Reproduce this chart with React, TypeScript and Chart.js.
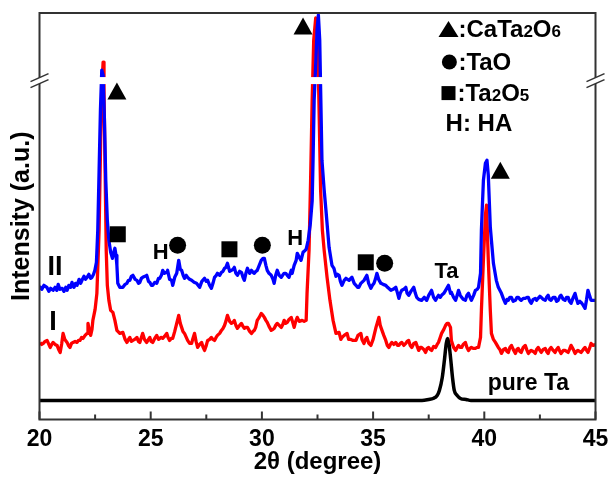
import React, { useEffect, useRef } from 'react';
import { Chart, registerables } from 'chart.js';

Chart.register(...registerables);

// 2θ (degree), intensity (a.u.) — sample II (blue)
const seriesII: [number, number][] = [
  [20.0, 66.5], [20.1, 65], [20.2, 67], [20.33, 66], [20.42, 64], [20.5, 65.5], [20.61, 64.5], [20.7, 66],
  [20.78, 64.5], [20.84, 67.5], [20.92, 65], [21.02, 65.5], [21.1, 64], [21.18, 66], [21.24, 64.5], [21.32, 67],
  [21.4, 66], [21.46, 68.5], [21.55, 66], [21.62, 68], [21.69, 67], [21.78, 70], [21.85, 68], [21.91, 69.5],
  [22.0, 71.5], [22.07, 70], [22.14, 71], [22.22, 72.5], [22.3, 70.5], [22.36, 71], [22.43, 72.5], [22.49, 74.5],
  [22.56, 78.5], [22.62, 94.5], [22.68, 124.5], [22.74, 154.5], [22.8, 174.5], [22.86, 172], [22.92, 149.5],
  [22.98, 119.5], [23.05, 99.5], [23.12, 89.5], [23.2, 83.5], [23.28, 80.5], [23.34, 83.5], [23.39, 85.5],
  [23.44, 82], [23.48, 77], [23.52, 68], [23.61, 66], [23.7, 66], [23.75, 66], [23.85, 67.5], [23.93, 68],
  [24.0, 69.5], [24.06, 69.5], [24.13, 71.5], [24.2, 72], [24.3, 70], [24.38, 69.5], [24.45, 68], [24.51, 68.5],
  [24.58, 70.5], [24.64, 71], [24.74, 71.5], [24.82, 72], [24.9, 69], [24.96, 68.5], [25.03, 67], [25.09, 67],
  [25.18, 68.5], [25.27, 68], [25.35, 70.5], [25.41, 70.5], [25.48, 72], [25.54, 74.5], [25.62, 73], [25.72, 73.5],
  [25.76, 74.5], [25.85, 70], [25.94, 69.5], [25.99, 67], [26.08, 71], [26.17, 73], [26.26, 79.5], [26.33, 75],
  [26.39, 74.5], [26.46, 72], [26.52, 70.5], [26.6, 72], [26.66, 71], [26.75, 70], [26.84, 69.5], [26.95, 68.5],
  [27.06, 68], [27.13, 67], [27.2, 66], [27.3, 69], [27.42, 70.5], [27.5, 69], [27.56, 69.5], [27.65, 67],
  [27.73, 65.5], [27.8, 68], [27.87, 71], [27.95, 72], [28.0, 73], [28.1, 72], [28.18, 73.5], [28.25, 74],
  [28.32, 75.5], [28.38, 76], [28.45, 78], [28.55, 74], [28.63, 74.5], [28.7, 75], [28.76, 76], [28.83, 73],
  [28.9, 72], [29.0, 74], [29.08, 73.5], [29.15, 71], [29.21, 69.5], [29.28, 73], [29.35, 75.5], [29.45, 73],
  [29.53, 74.5], [29.6, 73.5], [29.66, 73], [29.73, 74], [29.79, 74.5], [29.88, 77], [29.97, 79.5], [30.05, 80.5],
  [30.11, 80.5], [30.18, 77], [30.24, 74.5], [30.32, 73], [30.42, 72], [30.5, 70], [30.55, 68], [30.62, 72],
  [30.69, 74.5], [30.78, 72], [30.87, 71], [30.93, 72], [31.0, 73], [31.07, 73], [31.14, 72], [31.22, 71],
  [31.32, 74.5], [31.36, 73], [31.45, 77], [31.54, 79.5], [31.59, 83], [31.68, 81], [31.76, 79.5], [31.85, 83.5],
  [31.9, 84], [31.99, 85], [32.08, 89.5], [32.17, 97], [32.26, 109], [32.3, 129.5], [32.35, 159.5], [32.4, 172],
  [32.48, 194.5], [32.54, 202], [32.6, 189.5], [32.65, 159.5], [32.7, 129.5], [32.8, 114.5], [32.88, 104.5],
  [33.02, 86], [33.15, 77], [33.24, 75.5], [33.33, 71.5], [33.4, 72.5], [33.47, 72], [33.53, 69], [33.6, 67],
  [33.7, 69.5], [33.78, 70.5], [33.85, 70], [33.92, 69.5], [34.0, 70.5], [34.05, 71], [34.15, 68], [34.23, 67],
  [34.3, 66], [34.36, 66], [34.45, 68], [34.59, 69.5], [34.72, 72], [34.8, 68], [34.9, 65.5], [34.97, 67],
  [35.04, 68], [35.1, 70], [35.17, 73], [35.25, 70], [35.35, 68], [35.45, 67.5], [35.57, 67], [35.65, 66],
  [35.8, 64.5], [35.9, 65], [36.02, 66], [36.1, 63], [36.16, 60.5], [36.22, 63], [36.29, 64.5], [36.38, 65],
  [36.47, 66], [36.53, 63], [36.6, 62], [36.7, 64], [36.83, 66], [36.9, 63], [36.96, 61], [37.05, 60],
  [37.18, 59.5], [37.3, 61], [37.41, 59.5], [37.5, 62], [37.63, 64.5], [37.72, 61], [37.81, 59.5], [37.88, 61],
  [37.94, 62], [38.02, 61], [38.08, 62], [38.18, 63], [38.26, 64.5], [38.39, 67], [38.48, 63], [38.52, 63.5],
  [38.62, 61], [38.71, 59.5], [38.78, 62], [38.84, 64.5], [38.92, 62], [38.98, 61], [39.05, 60], [39.15, 59.5],
  [39.22, 62], [39.29, 63], [39.36, 61], [39.42, 59.5], [39.52, 62], [39.6, 64.5], [39.68, 65], [39.74, 66],
  [39.83, 73], [39.87, 94.5], [39.96, 119.5], [40.05, 128], [40.12, 129.5], [40.18, 122], [40.27, 96],
  [40.41, 78], [40.54, 69.5], [40.63, 66], [40.77, 63], [40.87, 60], [40.95, 58], [41.02, 60], [41.08, 59.5],
  [41.15, 61], [41.22, 61], [41.3, 59], [41.4, 59.5], [41.47, 61], [41.53, 61], [41.6, 60], [41.66, 59.5],
  [41.75, 60.5], [41.84, 60.5], [41.92, 61], [41.98, 61], [42.05, 59], [42.11, 58], [42.2, 60], [42.29, 60.5],
  [42.35, 59.5], [42.42, 60.5], [42.5, 61.5], [42.56, 61], [42.65, 60], [42.74, 59.5], [42.8, 61], [42.87, 62],
  [42.93, 60], [43.0, 59.5], [43.1, 61], [43.18, 61], [43.25, 59], [43.32, 59.5], [43.4, 61.5], [43.45, 62],
  [43.55, 60], [43.63, 59.5], [43.7, 61], [43.77, 61], [43.83, 59], [43.9, 58], [44.0, 61], [44.08, 63],
  [44.15, 60], [44.21, 58], [44.3, 59], [44.35, 58.5], [44.45, 57], [44.53, 55.5], [44.6, 60], [44.66, 64.5],
  [44.73, 62], [44.8, 59.5], [45.0, 59.5],
];

// sample I (red)
const seriesI: [number, number][] = [
  [20.03, 38.5], [20.1, 37.5], [20.17, 38], [20.25, 39], [20.34, 39.5], [20.42, 37.5], [20.48, 36], [20.55, 37.5],
  [20.61, 38.5], [20.7, 37.5], [20.79, 37], [20.86, 35], [20.93, 33.5], [21.0, 38], [21.06, 43], [21.14, 40],
  [21.24, 38.5], [21.3, 37], [21.37, 36], [21.44, 38], [21.51, 38.5], [21.6, 39], [21.69, 38.5], [21.75, 39.5],
  [21.82, 39.5], [21.89, 41], [21.96, 40.5], [22.05, 42], [22.14, 43], [22.18, 48], [22.25, 44], [22.3, 42],
  [22.36, 45], [22.4, 49.5], [22.5, 55], [22.58, 63], [22.68, 94.5], [22.75, 139.5], [22.82, 169.5],
  [22.86, 178.5], [22.9, 164.5], [22.95, 124.5], [23.0, 84.5], [23.05, 67], [23.12, 59.5], [23.2, 54.5],
  [23.3, 53.5], [23.39, 49.5], [23.48, 44.5], [23.61, 43], [23.75, 43.5], [23.85, 40], [23.93, 38.5], [24.0, 40],
  [24.06, 41], [24.13, 39], [24.2, 39.5], [24.28, 40], [24.38, 41], [24.45, 39], [24.51, 38.5], [24.58, 41],
  [24.64, 43], [24.72, 40], [24.82, 38.5], [24.9, 40], [24.96, 41], [25.02, 39], [25.09, 38.5], [25.18, 40.5],
  [25.27, 42], [25.35, 40], [25.41, 40.5], [25.47, 41], [25.54, 40.5], [25.62, 41.5], [25.72, 43], [25.78, 41],
  [25.85, 39.5], [25.92, 40.5], [25.99, 40.5], [26.08, 44], [26.17, 48], [26.26, 52], [26.33, 48], [26.39, 46],
  [26.45, 44], [26.52, 43], [26.6, 41], [26.66, 39.5], [26.75, 38], [26.84, 38], [26.9, 40.5], [26.97, 43],
  [27.04, 39], [27.11, 36], [27.2, 37.5], [27.29, 38.5], [27.36, 36], [27.42, 34.5], [27.5, 37], [27.56, 39.5],
  [27.65, 40], [27.73, 41], [27.8, 40], [27.87, 39.5], [27.94, 41], [28.0, 42], [28.1, 43], [28.18, 44.5],
  [28.25, 45.5], [28.32, 47], [28.38, 49], [28.45, 52], [28.55, 49], [28.63, 48], [28.7, 48.5], [28.76, 49.5],
  [28.83, 47], [28.9, 45.5], [29.0, 47], [29.08, 48], [29.15, 46.5], [29.21, 45.5], [29.28, 46], [29.35, 46],
  [29.45, 44], [29.53, 43], [29.6, 44], [29.66, 44.5], [29.72, 46], [29.79, 49.5], [29.88, 51], [29.97, 53],
  [30.05, 52], [30.11, 51], [30.18, 49.5], [30.24, 48.5], [30.32, 46.5], [30.42, 44.5], [30.5, 45], [30.55, 45.5],
  [30.62, 47], [30.69, 48], [30.78, 47], [30.87, 46], [30.94, 47.5], [31.0, 49.5], [31.07, 48], [31.14, 48.5],
  [31.22, 50], [31.32, 51], [31.4, 48], [31.45, 46], [31.52, 49], [31.59, 51], [31.68, 49], [31.81, 49.5],
  [31.9, 49], [31.99, 49.5], [32.03, 63], [32.12, 84.5], [32.19, 119.5], [32.26, 159.5], [32.33, 189.5],
  [32.42, 200.5], [32.5, 194.5], [32.58, 149.5], [32.64, 114.5], [32.72, 94.5], [32.8, 84.5], [32.93, 71],
  [33.06, 59.5], [33.2, 49.5], [33.33, 43], [33.47, 43.5], [33.55, 40], [33.6, 41], [33.7, 42], [33.83, 43],
  [33.9, 40], [34.0, 40], [34.1, 39.5], [34.23, 39.5], [34.32, 42], [34.45, 43], [34.5, 40], [34.59, 38],
  [34.65, 40], [34.72, 41], [34.81, 38], [34.9, 37], [35.0, 40], [35.13, 46], [35.26, 51], [35.32, 47],
  [35.4, 44.5], [35.48, 42], [35.57, 39.5], [35.64, 37], [35.71, 36], [35.78, 37.5], [35.84, 38.5], [35.93, 37.5],
  [36.02, 38.5], [36.1, 37], [36.16, 37], [36.22, 38], [36.29, 38.5], [36.38, 37], [36.47, 38], [36.53, 39],
  [36.6, 39.5], [36.67, 37], [36.74, 36], [36.83, 38], [36.92, 38.5], [37.0, 36], [37.05, 34.5], [37.12, 36],
  [37.18, 36], [37.28, 35], [37.36, 33.5], [37.43, 35.5], [37.5, 36], [37.57, 35], [37.63, 34.5], [37.72, 36.5],
  [37.81, 36], [37.88, 37.5], [37.94, 38.5], [38.02, 41], [38.08, 43], [38.18, 45], [38.26, 47], [38.33, 48],
  [38.39, 48], [38.48, 46], [38.52, 39.5], [38.62, 36], [38.71, 34.5], [38.78, 36], [38.84, 37], [38.92, 36],
  [38.98, 36], [39.05, 37.5], [39.15, 38.5], [39.22, 36], [39.29, 34.5], [39.36, 35.5], [39.42, 36], [39.5, 35.5],
  [39.6, 35.5], [39.68, 36], [39.74, 36], [39.83, 41], [39.87, 54.5], [39.96, 79.5], [40.05, 102], [40.1, 107],
  [40.18, 79.5], [40.27, 54.5], [40.32, 43], [40.41, 40], [40.5, 38.5], [40.63, 36], [40.7, 35], [40.77, 33],
  [40.87, 35], [40.95, 35.5], [41.02, 34], [41.08, 33.5], [41.15, 36], [41.22, 37], [41.3, 35], [41.4, 33],
  [41.47, 35], [41.53, 35.5], [41.6, 34], [41.66, 33.5], [41.75, 36], [41.84, 37], [41.92, 34.5], [41.98, 33],
  [42.05, 34], [42.11, 34.5], [42.2, 34], [42.29, 33], [42.35, 35], [42.42, 36], [42.5, 34.5], [42.56, 33.5],
  [42.65, 35], [42.74, 35.5], [42.8, 34], [42.87, 33], [42.93, 35], [43.0, 36], [43.1, 34.5], [43.18, 33.5],
  [43.25, 35], [43.32, 36], [43.38, 34.5], [43.45, 33], [43.55, 34.5], [43.63, 34.5], [43.7, 34], [43.77, 33.5],
  [43.83, 35], [43.9, 37], [44.0, 35], [44.08, 33], [44.15, 34], [44.21, 34.5], [44.28, 34], [44.35, 33.5],
  [44.45, 35], [44.53, 36], [44.6, 34.5], [44.66, 33.5], [44.73, 35.5], [44.8, 38], [44.9, 37], [45.0, 37.5],
];

// pure Ta (black)
const seriesPureTa: [number, number][] = [
  [20.0, 9.5], [37.2, 9.5], [37.5, 10], [37.7, 10.5], [37.88, 12], [37.98, 14.5], [38.11, 21], [38.21, 30],
  [38.29, 38], [38.35, 40.5], [38.41, 38], [38.49, 30], [38.57, 21], [38.65, 14.5], [38.78, 12], [38.93, 10.5],
  [39.18, 10], [39.4, 9.5], [45.0, 9.5],
];

const xMajorTicks = [20, 25, 30, 35, 40, 45];
const xMinorTicks = [22.5, 27.5, 32.5, 37.5, 42.5];
const BREAK_LOW = 167.5;
const BREAK_HIGH = 171;

// phase markers [2θ, intensity]
const triangleMarks: [number, number][] = [[23.48, 164], [31.85, 196.5], [40.72, 124.5]];
const squareMarks: [number, number][] = [[23.52, 92.5], [28.54, 85], [34.67, 78.5]];
const circleMarks: [number, number][] = [[26.21, 87], [30.02, 87], [35.52, 78]];
const textMarks: { text: string; x: number; y: number; size: number }[] = [
  { text: 'H', x: 25.45, y: 83, size: 22 },
  { text: 'H', x: 31.5, y: 90, size: 22 },
  { text: 'Ta', x: 38.3, y: 73.5, size: 22 },
  { text: 'II', x: 20.7, y: 76, size: 27 },
  { text: 'I', x: 20.61, y: 48.5, size: 27 },
  { text: 'pure Ta', x: 41.98, y: 18, size: 23 },
];

type Part = { t: string; small?: boolean };
const legendRows: { symbol: string; x: number; y: number; parts: Part[] }[] = [
  { symbol: 'triangle', x: 38.39, y: 195, parts: [{ t: ':CaTa' }, { t: '2', small: true }, { t: 'O' }, { t: '6', small: true }] },
  { symbol: 'circle', x: 38.43, y: 178.5, parts: [{ t: ':TaO' }] },
  { symbol: 'square', x: 38.39, y: 163, parts: [{ t: ':Ta' }, { t: '2', small: true }, { t: 'O' }, { t: '5', small: true }] },
  { symbol: 'none', x: 38.26, y: 148, parts: [{ t: 'H: HA' }] },
];

const FONT = '"Liberation Sans", Arial, sans-serif';
const AXIS_COLOR = '#333333';

function drawTriangle(ctx: CanvasRenderingContext2D, cx: number, cy: number, w: number, h: number) {
  ctx.beginPath();
  ctx.moveTo(cx, cy - h / 2);
  ctx.lineTo(cx + w / 2, cy + h / 2);
  ctx.lineTo(cx - w / 2, cy + h / 2);
  ctx.closePath();
  ctx.fill();
}

const overlayPlugin = {
  id: 'overlay',
  afterDatasetsDraw(chart: any) {
    const { ctx, chartArea: a, scales } = chart;
    const xs = scales.x;
    const ys = scales.y;
    ctx.save();
    // axis break band
    const bTop = ys.getPixelForValue(BREAK_HIGH);
    const bBot = ys.getPixelForValue(BREAK_LOW);
    ctx.fillStyle = '#ffffff';
    ctx.fillRect(a.left + 1, bTop, a.right - a.left - 2, bBot - bTop);

    // frame
    ctx.strokeStyle = AXIS_COLOR;
    ctx.lineWidth = 2;
    ctx.strokeRect(a.left, a.top, a.right - a.left, a.bottom - a.top);

    // inward ticks
    for (const t of xMajorTicks) {
      const px = xs.getPixelForValue(t);
      ctx.beginPath();
      ctx.moveTo(px, a.bottom);
      ctx.lineTo(px, a.bottom - 8);
      ctx.stroke();
    }
    for (const t of xMinorTicks) {
      const px = xs.getPixelForValue(t);
      ctx.beginPath();
      ctx.moveTo(px, a.bottom);
      ctx.lineTo(px, a.bottom - 5);
      ctx.stroke();
    }

    // break marks on both y axes
    const cy = ys.getPixelForValue((BREAK_LOW + BREAK_HIGH) / 2);
    for (const cx of [a.left, a.right]) {
      ctx.fillStyle = '#ffffff';
      ctx.beginPath();
      ctx.moveTo(cx - 9, cy + 4 - 3);
      ctx.lineTo(cx + 9, cy - 4 - 3);
      ctx.lineTo(cx + 9, cy - 4 + 3);
      ctx.lineTo(cx - 9, cy + 4 + 3);
      ctx.closePath();
      ctx.fill();
      ctx.strokeStyle = AXIS_COLOR;
      ctx.lineWidth = 1.5;
      for (const off of [-3, 3]) {
        ctx.beginPath();
        ctx.moveTo(cx - 9, cy + 4 + off);
        ctx.lineTo(cx + 9, cy - 4 + off);
        ctx.stroke();
      }
    }

    // markers
    ctx.fillStyle = '#000000';
    for (const [x, y] of triangleMarks) {
      drawTriangle(ctx, xs.getPixelForValue(x), ys.getPixelForValue(y), 19, 17);
    }
    for (const [x, y] of squareMarks) {
      const px = xs.getPixelForValue(x);
      const py = ys.getPixelForValue(y);
      ctx.fillRect(px - 8, py - 8, 16, 16);
    }
    for (const [x, y] of circleMarks) {
      ctx.beginPath();
      ctx.arc(xs.getPixelForValue(x), ys.getPixelForValue(y), 8.5, 0, Math.PI * 2);
      ctx.fill();
    }
    ctx.textAlign = 'center';
    ctx.textBaseline = 'middle';
    for (const m of textMarks) {
      ctx.font = `bold ${m.size}px ${FONT}`;
      ctx.fillText(m.text, xs.getPixelForValue(m.x), ys.getPixelForValue(m.y));
    }

    // legend block
    ctx.textAlign = 'left';
    ctx.textBaseline = 'alphabetic';
    const big = 24;
    const small = 17;
    for (const row of legendRows) {
      const px = xs.getPixelForValue(row.x);
      const py = ys.getPixelForValue(row.y);
      let tx = px;
      if (row.symbol === 'triangle') {
        drawTriangle(ctx, px, py, 20, 16);
        tx = px + 10;
      } else if (row.symbol === 'circle') {
        ctx.beginPath();
        ctx.arc(px, py, 7.5, 0, Math.PI * 2);
        ctx.fill();
        tx = px + 9;
      } else if (row.symbol === 'square') {
        ctx.fillRect(px - 7, py - 7, 14, 14);
        tx = px + 9;
      }
      const base = py + 8;
      for (const p of row.parts) {
        ctx.font = `bold ${p.small ? small : big}px ${FONT}`;
        ctx.fillText(p.t, tx, base);
        tx += ctx.measureText(p.t).width;
      }
    }
    ctx.restore();
  },
};

export default function App() {
  const ref = useRef<HTMLCanvasElement | null>(null);
  useEffect(() => {
    if (!ref.current) return;
    const mk = (arr: [number, number][]) => arr.map(([x, y]) => ({ x, y }));
    const chart = new Chart(ref.current, {
      type: 'line',
      data: {
        datasets: [
          { label: 'II', data: mk(seriesII), borderColor: '#0000ff', borderWidth: 3.3, pointRadius: 0, tension: 0, borderJoinStyle: 'round' },
          { label: 'I', data: mk(seriesI), borderColor: '#ff0000', borderWidth: 3.3, pointRadius: 0, tension: 0, borderJoinStyle: 'round' },
          { label: 'pure Ta', data: mk(seriesPureTa), borderColor: '#000000', borderWidth: 3.5, pointRadius: 0, cubicInterpolationMode: 'monotone', borderJoinStyle: 'round' },
        ] as any,
      },
      options: {
        animation: false,
        responsive: false,
        devicePixelRatio: 1,
        layout: { padding: { left: 0, top: 13, right: 13.5, bottom: 0 } },
        plugins: { legend: { display: false }, tooltip: { enabled: false } },
        scales: {
          x: {
            type: 'linear',
            min: 20,
            max: 45,
            afterFit: (s: any) => { s.height = 57.5; s.paddingLeft = 0; s.paddingRight = 0; },
            afterBuildTicks: (s: any) => { s.ticks = xMajorTicks.map((v) => ({ value: v })); },
            grid: { display: false, drawTicks: false },
            border: { display: false },
            ticks: { color: '#000', font: { family: FONT, size: 23, weight: 'bold' }, padding: 6, maxRotation: 0, autoSkip: false },
            title: { display: true, text: '2θ (degree)', color: '#000', font: { family: FONT, size: 24, weight: 'bold' }, padding: { top: 0, bottom: 0 } },
          },
          y: {
            type: 'linear',
            min: 0,
            max: 203,
            afterFit: (s: any) => { s.width = 39.5; },
            grid: { display: false, drawTicks: false },
            border: { display: false },
            ticks: { display: false },
            title: { display: true, text: 'Intensity (a.u.)', color: '#000', font: { family: FONT, size: 25, weight: 'bold' }, padding: { top: 7, bottom: 0 } },
          },
        },
      } as any,
      plugins: [overlayPlugin],
    });
    return () => chart.destroy();
  }, []);
  return (
    <div style={{ position: 'fixed', left: 0, top: 0, width: 609, height: 477, background: '#fff' }}>
      <canvas ref={ref} width={609} height={477} />
    </div>
  );
}
